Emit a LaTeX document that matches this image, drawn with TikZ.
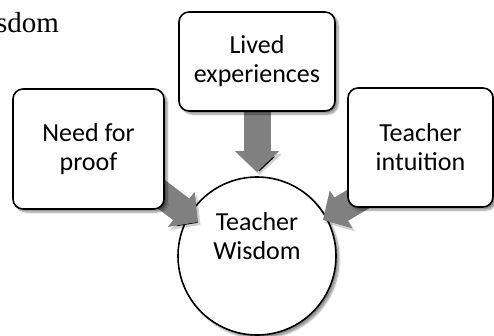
\documentclass[tikz,border=0pt]{standalone}
\usepackage{fontspec}
\setmainfont{Carlito}
\newfontfamily\capserif{Liberation Serif}
\usetikzlibrary{arrows.meta,shadows.blur}
\pgfdeclarelayer{mid}
\pgfdeclarelayer{top}
\pgfsetlayers{main,mid,top}
\definecolor{arrowgray}{RGB}{128,128,128}
\begin{document}
\begin{tikzpicture}[x=1pt,y=-1pt,
  softshadow/.style={blur shadow={shadow xshift=3pt, shadow yshift=-3pt, shadow opacity=45, shadow blur steps=8}},
  box/.style={draw, line width=1.6pt, rounded corners=10pt, fill=white, align=center,
    font=\fontsize{26}{29}\selectfont, inner sep=0pt, softshadow},
  txt/.style={align=center, font=\fontsize{26}{29}\selectfont, inner sep=0pt},
  barrow/.style={draw=arrowgray, line width=27pt, -{Triangle[width=43pt,length=21pt]},
    preaction={draw=black, draw opacity=0.18, transform canvas={xshift=2.5pt,yshift=-3pt}}}
]
\useasboundingbox (0,0) rectangle (494,335);

\node[draw, circle, line width=1.6pt, fill=white, minimum size=158pt, inner sep=0pt, softshadow] (circ) at (257,256) {};

\begin{pgfonlayer}{top}
\node[box, minimum width=151pt, minimum height=120pt] (lbox) at (88.5,149) {Need for\\proof};
\node[box, minimum width=156pt, minimum height=99pt] (mbox) at (257,61.5) {Lived\\experiences};
\node[box, minimum width=145pt, minimum height=119pt] (rbox) at (420.5,147.5) {Teacher\\intuition};
\node[txt] (ctext) at (257,236) {Teacher\\Wisdom};
\end{pgfonlayer}

\node[anchor=base west, inner sep=0pt, font=\capserif\fontsize{29}{34}\selectfont] (cap) at (-4,32) {sdom};

\begin{pgfonlayer}{mid}
\draw[barrow] ([yshift=10pt]lbox.center) -- ([xshift=-59pt,yshift=34pt]circ.center);
\draw[barrow] (mbox.center) -- ([yshift=84pt]circ.center);
\draw[barrow] ([yshift=-14.5pt]rbox.center) -- ([xshift=66pt,yshift=36pt]circ.center);
\end{pgfonlayer}
\end{tikzpicture}
\end{document}
